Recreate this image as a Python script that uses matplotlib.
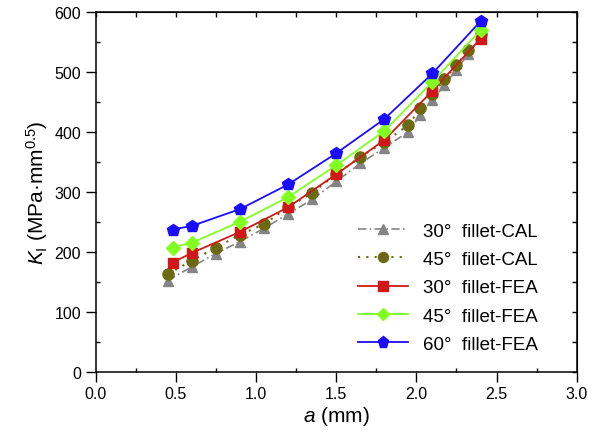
import numpy as np
from matplotlib import pyplot as plt
from matplotlib.ticker import MultipleLocator, NullFormatter

plt.rcParams['font.family'] = ['Liberation Sans', 'DejaVu Sans']
plt.rcParams['mathtext.fontset'] = 'custom'
plt.rcParams['mathtext.rm'] = 'Liberation Sans'
plt.rcParams['mathtext.it'] = 'Liberation Sans:italic'

# calculated values (denser near the end)
a_cal = [0.45, 0.6, 0.75, 0.9, 1.05, 1.2, 1.35, 1.5, 1.65, 1.8, 1.95,
         2.025, 2.1, 2.175, 2.25, 2.325, 2.4]
k_cal_30 = [152, 175, 197, 217, 239, 263, 287, 317, 347, 373, 400,
            428, 452, 478, 503, 530, 558]
k_cal_45 = [163, 185, 207, 228, 246, 274, 298, 329, 358, 383, 411,
            439, 462, 487, 511, 536, 563]

# finite element results
a_fea = [0.48, 0.6, 0.9, 1.2, 1.5, 1.8, 2.1, 2.4]
k_fea_30 = [182, 198, 233, 274, 329, 386, 468, 555]
k_fea_45 = [207, 215, 250, 291, 344, 401, 483, 569]
k_fea_60 = [237, 243, 271, 312, 364, 421, 497, 584]

fig = plt.figure(figsize=(6.03, 4.39), dpi=100)
ax = fig.add_axes([0.1587, 0.151, 0.7977, 0.8201])

ax.plot(a_cal, k_cal_30, color='#858585', ls=(0, (5, 2, 1, 2)), lw=1.2,
        marker='^', ms=7.5, label='30°  fillet-CAL')
ax.plot(a_cal, k_cal_45, color='#6b6a12', ls=(0, (1, 3)), lw=1.5,
        marker='o', ms=8, label='45°  fillet-CAL')
ax.plot(a_fea, k_fea_30, color='#d01818', lw=1.3,
        marker='s', ms=7.5, label='30°  fillet-FEA')
ax.plot(a_fea, k_fea_45, color='#80ff20', lw=1.3,
        marker='D', ms=7, label='45°  fillet-FEA')
ax.plot(a_fea, k_fea_60, color='#1a0cff', lw=1.3,
        marker='p', ms=9, label='60°  fillet-FEA')

ax.set_xlim(0, 3)
ax.set_ylim(0, 600)
ax.xaxis.set_major_locator(MultipleLocator(0.5))
ax.xaxis.set_minor_locator(MultipleLocator(0.25))
ax.yaxis.set_major_locator(MultipleLocator(100))
ax.yaxis.set_minor_locator(MultipleLocator(50))
ax.xaxis.set_major_formatter(plt.FormatStrFormatter('%.1f'))
ax.tick_params(which='major', direction='out', length=7, width=1,
               labelsize=11.5, colors='black')
ax.tick_params(which='minor', direction='in', length=3, width=1)
for s in ax.spines.values():
    s.set_linewidth(1.1)

# inward ticks on the opposite sides
top = ax.secondary_xaxis('top')
top.xaxis.set_major_locator(MultipleLocator(0.5))
top.xaxis.set_minor_locator(MultipleLocator(0.25))
top.xaxis.set_major_formatter(NullFormatter())
top.tick_params(which='both', direction='in', length=3.5, width=1)
right = ax.secondary_yaxis('right')
right.yaxis.set_major_locator(MultipleLocator(100))
right.yaxis.set_minor_locator(MultipleLocator(50))
right.yaxis.set_major_formatter(NullFormatter())
right.tick_params(which='both', direction='in', length=3.5, width=1)

ax.set_xlabel(r'$a$ (mm)', fontsize=15, labelpad=2)
ax.set_ylabel(r'$K_{\mathrm{I}}$ (MPa·mm$^{0.5}$)', fontsize=15, labelpad=3)

ax.legend(loc='lower right', bbox_to_anchor=(0.955, 0.005), frameon=False,
          fontsize=13.5, handlelength=2.7, handletextpad=0.8,
          labelspacing=0.6, markerscale=0.9)

fig.savefig('out.png', dpi=100)
